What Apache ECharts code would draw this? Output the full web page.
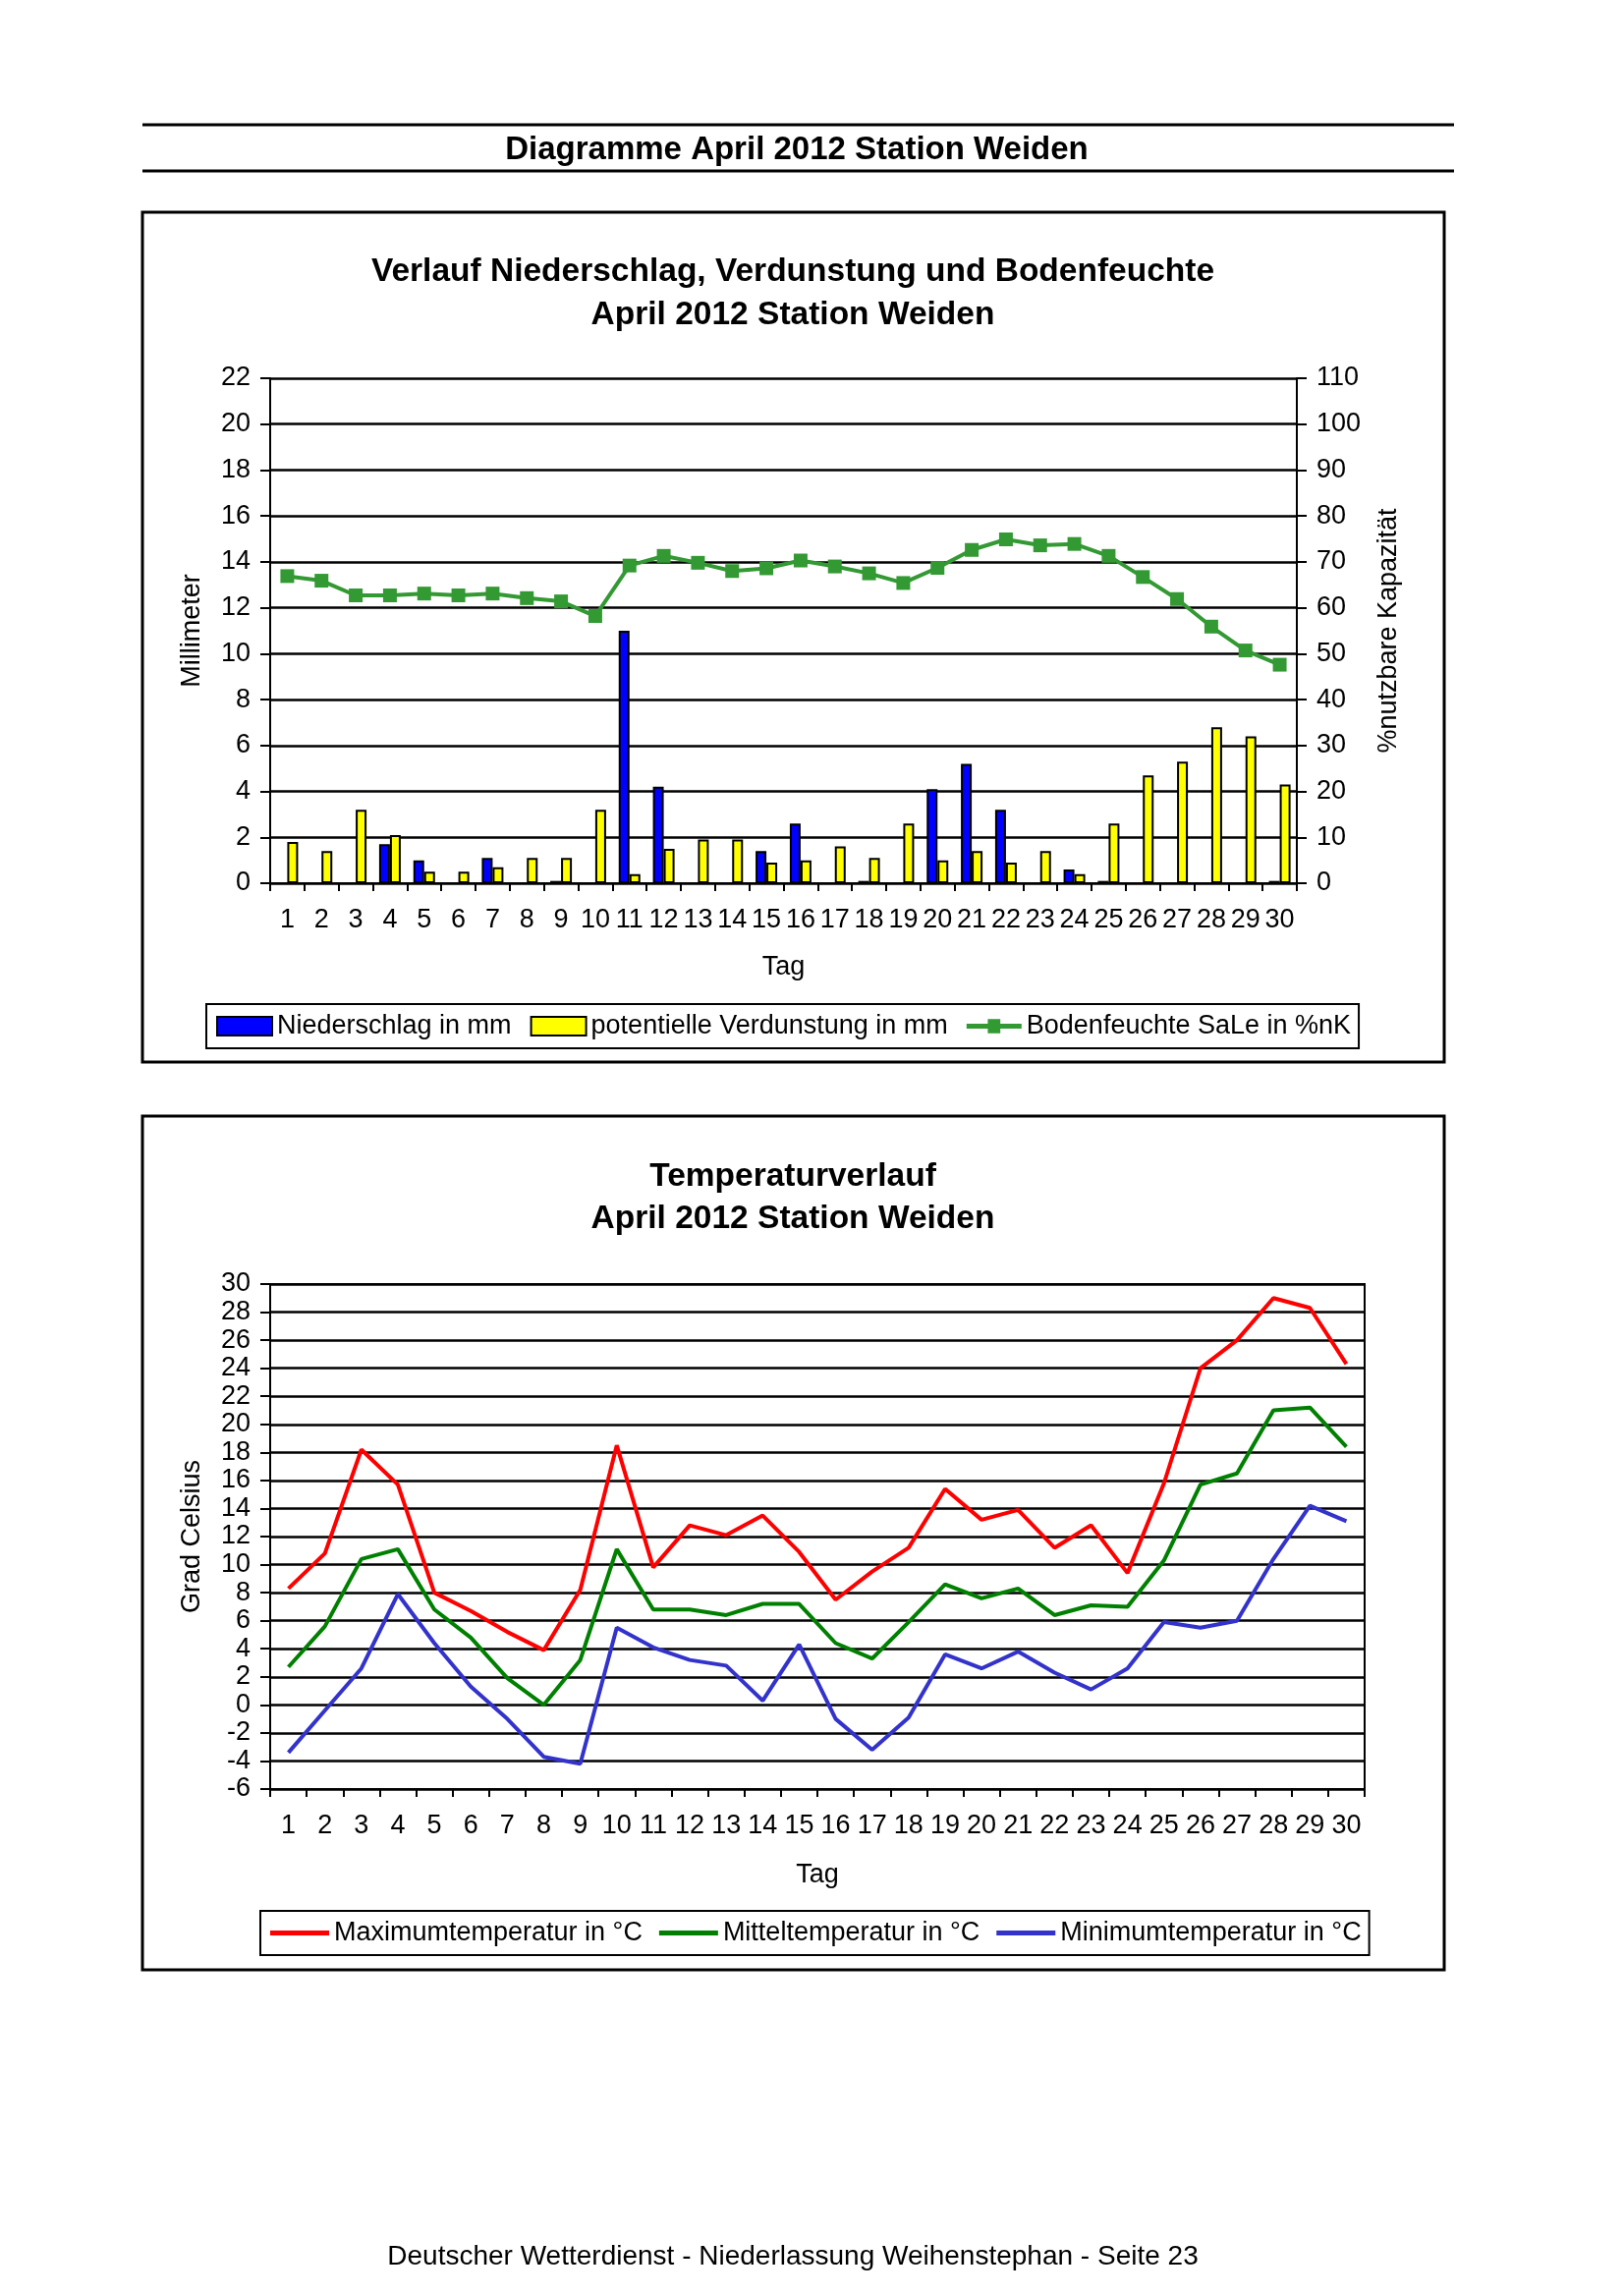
<!DOCTYPE html>
<html><head><meta charset="utf-8">
<script src="https://cdn.jsdelivr.net/npm/echarts@6/dist/echarts.min.js"></script>
<style>html,body{margin:0;padding:0;background:#fff}#c{width:1653px;height:2337px}</style>
</head><body><div id="c"></div>
<script>
const days = ['1','2','3','4','5','6','7','8','9','10','11','12','13','14','15','16','17','18','19','20','21','22','23','24','25','26','27','28','29','30'];
const niederschlag = [0,0,0,1.7,1.0,0,1.1,0,0.1,0,11.0,4.2,0,0,1.4,2.6,0,0.1,0,4.1,5.2,3.2,0,0.6,0.1,0,0,0,0,0.1];
const verdunstung = [1.8,1.4,3.2,2.1,0.5,0.5,0.7,1.1,1.1,3.2,0.4,1.5,1.9,1.9,0.9,1.0,1.6,1.1,2.6,1.0,1.4,0.9,1.4,0.4,2.6,4.7,5.3,6.8,6.4,4.3];
const bodenfeuchte = [66.9,65.9,62.7,62.7,63.1,62.7,63.1,62.1,61.4,58.2,69.2,71.3,69.8,68.0,68.6,70.3,69.0,67.5,65.4,68.7,72.6,74.9,73.6,73.9,71.3,66.7,61.9,55.9,50.7,47.6];
const tmax = [8.3,10.8,18.2,15.7,8.0,6.7,5.2,3.9,8.2,18.5,9.8,12.8,12.1,13.5,10.9,7.5,9.5,11.2,15.4,13.2,13.9,11.2,12.8,9.4,15.8,24.0,26.0,29.0,28.3,24.3];
const tmean = [2.7,5.6,10.4,11.1,6.8,4.8,1.9,0.0,3.2,11.1,6.8,6.8,6.4,7.2,7.2,4.4,3.3,5.9,8.6,7.6,8.3,6.4,7.1,7.0,10.3,15.7,16.5,21.0,21.2,18.4];
const tmin = [-3.4,-0.4,2.6,7.9,4.4,1.3,-1.0,-3.7,-4.2,5.5,4.1,3.2,2.8,0.3,4.3,-1.0,-3.2,-0.9,3.6,2.6,3.8,2.3,1.1,2.6,5.9,5.5,6.0,10.4,14.2,13.1];

const FONT = '"Liberation Sans", Arial, sans-serif';
const black = '#000';
const chart = echarts.init(document.getElementById('c'));

function catAxis(gi, gap) {
  return {
    gridIndex: gi, type: 'category', data: days, boundaryGap: true,
    axisLine: {show: true, onZero: false, lineStyle: {color: black, width: 2}},
    axisTick: {show: true, length: 8, interval: 0, lineStyle: {color: black, width: 2}},
    axisLabel: {interval: 0, fontSize: 27, color: black, margin: 24, fontFamily: FONT},
    splitLine: {show: false},
    name: 'Tag', nameLocation: 'middle', nameGap: gap,
    nameTextStyle: {fontSize: 27, color: black, fontFamily: FONT}
  };
}
function valAxis(gi, pos, min, max, interval, name, gap, split) {
  return {
    gridIndex: gi, type: 'value', position: pos, min: min, max: max, interval: interval,
    axisLine: {show: true, lineStyle: {color: black, width: 2}},
    axisTick: {show: true, length: 10, lineStyle: {color: black, width: 2}},
    axisLabel: {fontSize: 27, color: black, margin: 20, fontFamily: FONT},
    splitLine: {show: split, lineStyle: {color: black, width: 2.5}},
    name: name, nameLocation: 'middle', nameGap: gap, nameRotate: 90,
    nameTextStyle: {fontSize: 27, color: black, fontFamily: FONT}
  };
}
const lineIcon = 'path://M0,0 L60,0 L60,5 L0,5 Z';
const markIcon = 'path://M0,7 L22,7 L22,2 L35,2 L35,7 L57,7 L57,12 L35,12 L35,17 L22,17 L22,12 L0,12 Z';

const option = {
  animation: false,
  backgroundColor: '#fff',
  textStyle: {fontFamily: FONT},
  grid: [
    {left: 275, top: 385, width: 1045, height: 514, outerBoundsMode: 'none', containLabel: false},
    {left: 275, top: 1307, width: 1114, height: 514, outerBoundsMode: 'none', containLabel: false,
     show: true, borderColor: black, borderWidth: 2}
  ],
  xAxis: [catAxis(0, 72), catAxis(1, 74)],
  yAxis: [
    valAxis(0, 'left', 0, 22, 2, 'Millimeter', 66, true),
    valAxis(0, 'right', 0, 110, 10, '%nutzbare Kapazität', 80, false),
    valAxis(1, 'left', -6, 30, 2, 'Grad Celsius', 66, true)
  ],
  legend: [
    {data: [{name: 'Niederschlag in mm', icon: 'rect'}, {name: 'potentielle Verdunstung in mm', icon: 'rect'},
            {name: 'Bodenfeuchte SaLe in %nK', icon: markIcon}],
     left: 210, top: 1022, orient: 'horizontal', borderColor: black, borderWidth: 2,
     padding: [9, 8, 9, 10], itemWidth: 56, itemHeight: 19, itemGap: 19,
     textStyle: {fontSize: 27, color: black, fontFamily: FONT}},
    {data: [{name: 'Maximumtemperatur in °C', icon: lineIcon}, {name: 'Mitteltemperatur in °C', icon: lineIcon},
            {name: 'Minimumtemperatur in °C', icon: lineIcon}],
     left: 265, top: 1945, orient: 'horizontal', borderColor: black, borderWidth: 2,
     padding: [9, 8, 9, 10], itemWidth: 60, itemHeight: 5, itemGap: 17,
     textStyle: {fontSize: 27, color: black, fontFamily: FONT}}
  ],
  series: [
    {name: 'Niederschlag in mm', type: 'bar', xAxisIndex: 0, yAxisIndex: 0, data: niederschlag,
     barWidth: 11, barGap: '0%',
     itemStyle: {color: '#0000FF', borderColor: black, borderWidth: 2}},
    {name: 'potentielle Verdunstung in mm', type: 'bar', xAxisIndex: 0, yAxisIndex: 0, data: verdunstung,
     barWidth: 11, barGap: '0%',
     itemStyle: {color: '#FFFF00', borderColor: black, borderWidth: 2}},
    {name: 'Bodenfeuchte SaLe in %nK', type: 'line', xAxisIndex: 0, yAxisIndex: 1, data: bodenfeuchte,
     symbol: 'rect', symbolSize: 14, showAllSymbol: true, z: 5,
     lineStyle: {color: '#339933', width: 4}, itemStyle: {color: '#339933'}},
    {name: 'Maximumtemperatur in °C', type: 'line', xAxisIndex: 1, yAxisIndex: 2, data: tmax,
     symbol: 'none', lineStyle: {color: '#FF0000', width: 4}, itemStyle: {color: '#FF0000'}},
    {name: 'Mitteltemperatur in °C', type: 'line', xAxisIndex: 1, yAxisIndex: 2, data: tmean,
     symbol: 'none', lineStyle: {color: '#008000', width: 4}, itemStyle: {color: '#008000'}},
    {name: 'Minimumtemperatur in °C', type: 'line', xAxisIndex: 1, yAxisIndex: 2, data: tmin,
     symbol: 'none', lineStyle: {color: '#3333CC', width: 4}, itemStyle: {color: '#3333CC'}}
  ],
  graphic: [
    {type: 'line', shape: {x1: 145, y1: 127, x2: 1480, y2: 127}, style: {stroke: black, lineWidth: 3}},
    {type: 'line', shape: {x1: 145, y1: 174, x2: 1480, y2: 174}, style: {stroke: black, lineWidth: 3}},
    {type: 'text', x: 811, y: 153, style: {text: 'Diagramme April 2012 Station Weiden', align: 'center', verticalAlign: 'middle',
      fontSize: 33, fontWeight: 'bold', fontFamily: FONT, fill: black}},
    {type: 'rect', shape: {x: 145, y: 216, width: 1325, height: 865}, style: {fill: 'none', stroke: black, lineWidth: 3}},
    {type: 'text', x: 807, y: 277, style: {text: 'Verlauf Niederschlag, Verdunstung und Bodenfeuchte', align: 'center', verticalAlign: 'middle',
      fontSize: 33.5, fontWeight: 'bold', fontFamily: FONT, fill: black}},
    {type: 'text', x: 807, y: 321, style: {text: 'April 2012 Station Weiden', align: 'center', verticalAlign: 'middle',
      fontSize: 33.5, fontWeight: 'bold', fontFamily: FONT, fill: black}},
    {type: 'rect', shape: {x: 145, y: 1136, width: 1325, height: 869}, style: {fill: 'none', stroke: black, lineWidth: 3}},
    {type: 'text', x: 807, y: 1198, style: {text: 'Temperaturverlauf', align: 'center', verticalAlign: 'middle',
      fontSize: 33.5, fontWeight: 'bold', fontFamily: FONT, fill: black}},
    {type: 'text', x: 807, y: 1241, style: {text: 'April 2012 Station Weiden', align: 'center', verticalAlign: 'middle',
      fontSize: 33.5, fontWeight: 'bold', fontFamily: FONT, fill: black}},
    {type: 'text', x: 807, y: 2297, style: {text: 'Deutscher Wetterdienst - Niederlassung Weihenstephan - Seite 23', align: 'center', verticalAlign: 'middle',
      fontSize: 28, fontFamily: FONT, fill: black}}
  ]
};
chart.setOption(option);
</script></body></html>
